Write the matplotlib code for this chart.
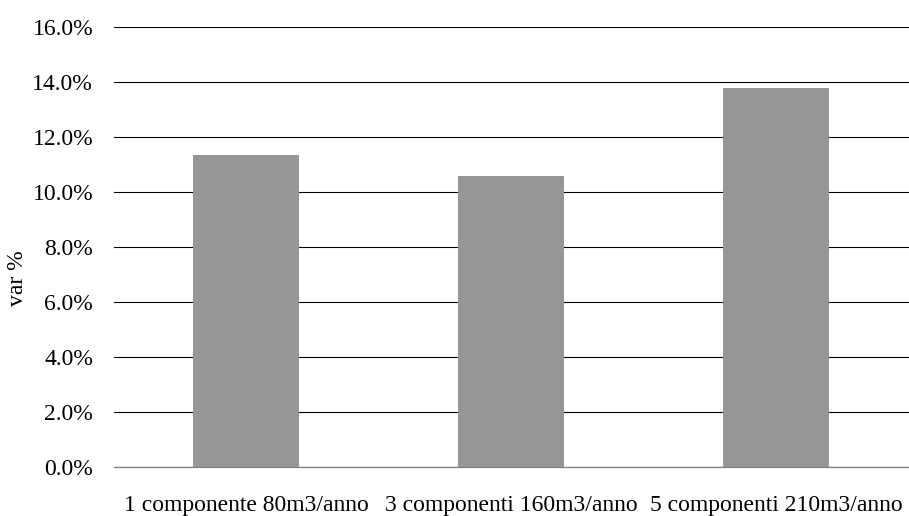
import matplotlib.pyplot as plt
from matplotlib.ticker import FuncFormatter, MultipleLocator

# data
categories = [
    "1 componente 80m3/anno",
    "3 componenti 160m3/anno",
    "5 componenti 210m3/anno",
]
var_pct = [11.35, 10.59, 13.79]

plt.rcParams["font.family"] = ["Liberation Serif", "DejaVu Serif"]

fig = plt.figure(figsize=(9.09, 5.16), dpi=100)
ax = fig.add_axes([0.1254, 0.094, 0.8746, 0.854])

x = range(len(categories))
ax.bar(x, var_pct, width=0.4, color="#969696", zorder=2)

ax.set_xlim(-0.5, len(categories) - 0.5)
ax.set_ylim(0, 16)
ax.yaxis.set_major_locator(MultipleLocator(2))
ax.yaxis.set_major_formatter(FuncFormatter(lambda v, _: f"{v:.1f}%"))
ax.grid(axis="y", color="#000000", linewidth=0.8, zorder=1)

ax.set_xticks(list(x))
ax.set_xticklabels(categories)
ax.tick_params(axis="both", length=0, labelsize=17, colors="#000000")
ax.tick_params(axis="y", pad=15)
ax.tick_params(axis="x", pad=20)

for side in ["top", "right", "left"]:
    ax.spines[side].set_visible(False)
ax.spines["bottom"].set_color("#808080")
ax.spines["bottom"].set_linewidth(0.9)

fig.text(0.019, 0.46, "var %", rotation=90, va="center", ha="center", fontsize=17)

fig.savefig("out.png", dpi=100)
